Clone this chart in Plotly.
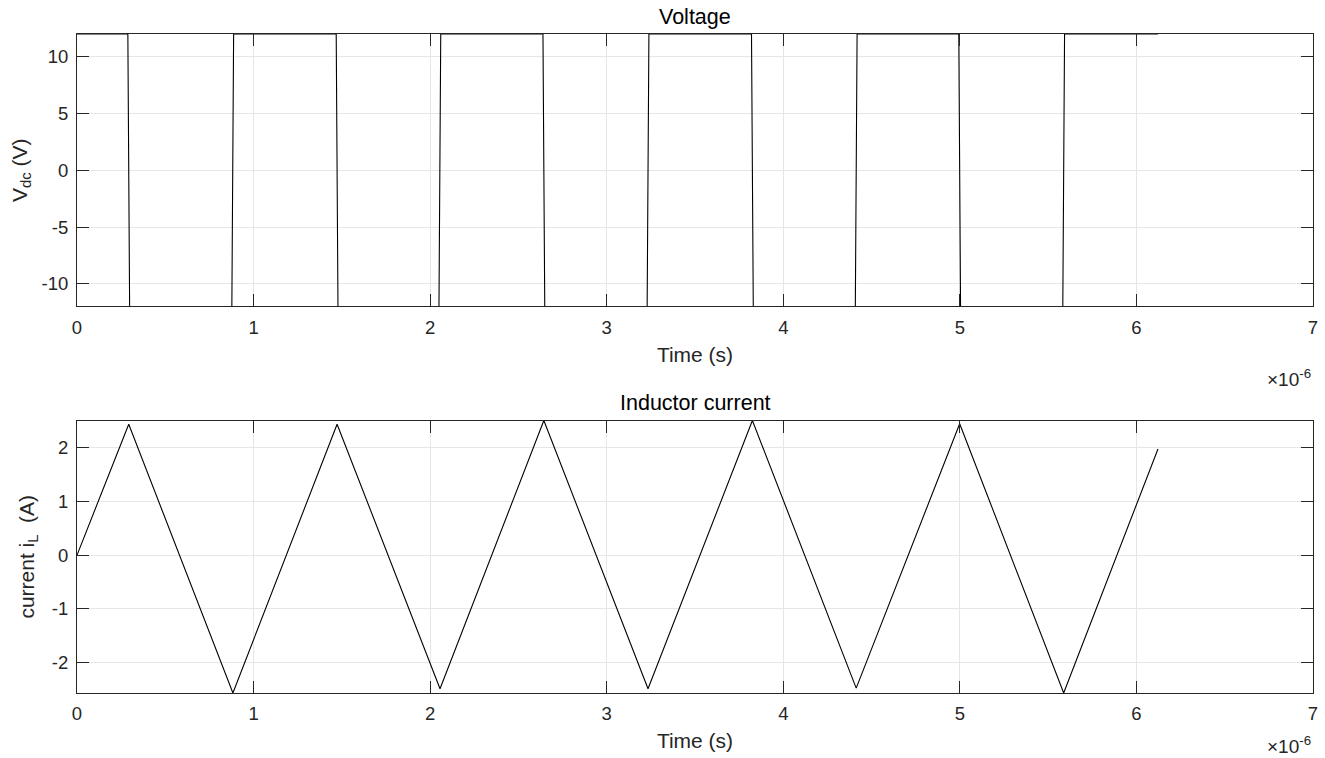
import plotly.graph_objects as go
from plotly.subplots import make_subplots

# ---- data (time in microseconds) ----
v_time_us = [0, 0.288, 0.298, 0.877, 0.887, 1.468, 1.478, 2.050, 2.060, 2.639, 2.649,
             3.229, 3.239, 3.820, 3.830, 4.408, 4.418, 4.994, 5.004, 5.583, 5.593, 6.122]
v_dc = [12, 12, -12, -12, 12, 12, -12, -12, 12, 12, -12,
        -12, 12, 12, -12, -12, 12, 12, -12, -12, 12, 12]

i_time_us = [0, 0.293, 0.883, 1.473, 2.056, 2.644, 3.234, 3.825, 4.413, 4.999, 5.588, 6.122]
i_L = [0, 2.44, -2.57, 2.44, -2.49, 2.51, -2.49, 2.51, -2.48, 2.45, -2.57, 1.98]

x_ticks = [0, 1, 2, 3, 4, 5, 6, 7]
v_ticks = [-10, -5, 0, 5, 10]
i_ticks = [-2, -1, 0, 1, 2]

FONT = "Liberation Sans, Arial, sans-serif"
AX = "#262626"
GRID = "#e6e6e6"

fig = make_subplots(rows=2, cols=1, vertical_spacing=0.173)
fig.add_trace(go.Scatter(x=v_time_us, y=v_dc, mode="lines",
                         line=dict(color="black", width=1.1), showlegend=False), row=1, col=1)
fig.add_trace(go.Scatter(x=i_time_us, y=i_L, mode="lines",
                         line=dict(color="black", width=1.1), showlegend=False), row=2, col=1)

axis_common = dict(showline=True, linecolor=AX, linewidth=1, mirror="ticks",
                   ticks="inside", ticklen=12, tickcolor=AX, tickwidth=1,
                   showgrid=True, gridcolor=GRID, gridwidth=1, zeroline=False,
                   ticklabelstandoff=4,
                   tickfont=dict(family=FONT, size=18.5, color=AX))

for r in (1, 2):
    fig.update_xaxes(range=[0, 7], tickvals=x_ticks, ticktext=[str(t) for t in x_ticks],
                     title=dict(text="Time (s)", font=dict(family=FONT, size=21, color=AX), standoff=10),
                     row=r, col=1, **axis_common)

fig.update_yaxes(range=[-12, 12], tickvals=v_ticks, ticktext=[str(t) for t in v_ticks],
                 title=dict(text="V<sub>dc</sub> (V)", font=dict(family=FONT, size=21, color=AX), standoff=8),
                 row=1, col=1, **axis_common)
fig.update_yaxes(range=[-2.57, 2.51], tickvals=i_ticks, ticktext=[str(t) for t in i_ticks],
                 title=dict(text="current i<sub>L</sub>  (A)", font=dict(family=FONT, size=21, color=AX), standoff=11),
                 row=2, col=1, **axis_common)

annotations = [
    dict(text="Voltage", x=0.5, y=1.0, xref="paper", yref="paper", xanchor="center", yanchor="bottom",
         yshift=3, showarrow=False, font=dict(family=FONT, size=21.5, color="black")),
    dict(text="Inductor current", x=0.5, y=0.414, xref="paper", yref="paper", xanchor="center", yanchor="bottom",
         yshift=3, showarrow=False, font=dict(family=FONT, size=21.5, color="black")),
    dict(text="×10<sup>-6</sup>", x=1.0, y=0.587, xref="paper", yref="paper", xanchor="right", yanchor="top",
         yshift=-58, showarrow=False, font=dict(family=FONT, size=19, color=AX)),
    dict(text="×10<sup>-6</sup>", x=1.0, y=0.0, xref="paper", yref="paper", xanchor="right", yanchor="top",
         yshift=-38, showarrow=False, font=dict(family=FONT, size=19, color=AX)),
]

fig.update_layout(width=1325, height=758, margin=dict(l=77, r=7, t=34, b=65),
                  paper_bgcolor="white", plot_bgcolor="white",
                  annotations=annotations, font=dict(family=FONT, color=AX))

fig.write_html("out.html", config={"displayModeBar": False},
               post_script="document.body.style.margin='0px';document.body.style.overflow='hidden';")
